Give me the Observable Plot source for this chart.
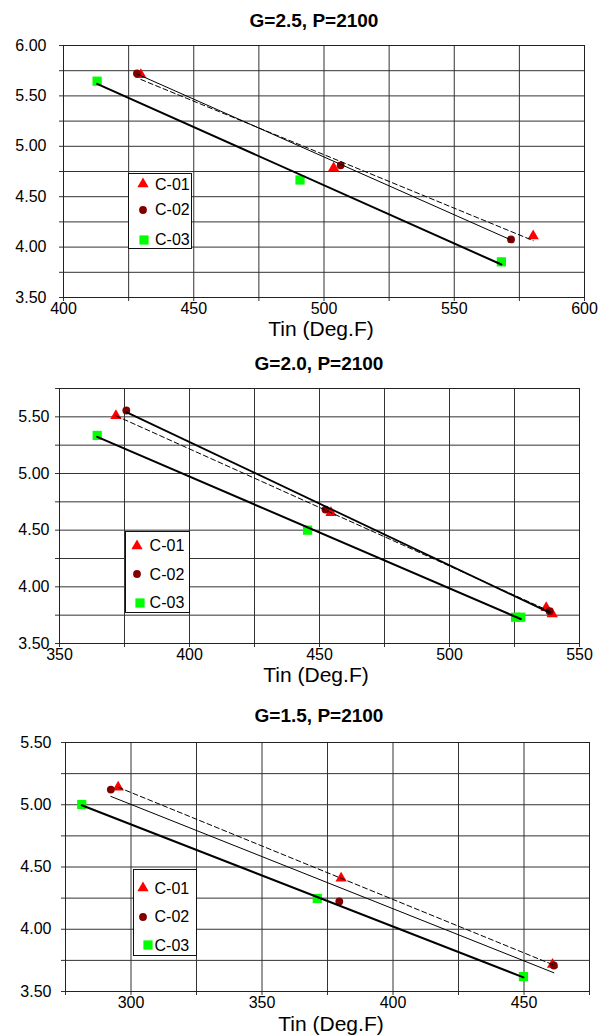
<!DOCTYPE html>
<html><head><meta charset="utf-8">
<script src="https://cdn.jsdelivr.net/npm/d3@7"></script>
<script src="https://cdn.jsdelivr.net/npm/@observablehq/plot@0.6"></script>
<style>
body{margin:0;background:#fff;font-family:"Liberation Sans",Arial,sans-serif;}
#root{position:relative;width:606px;height:1035px;overflow:hidden;background:#fff;}
.panel{position:absolute;left:0;}
.title{position:absolute;font-weight:bold;font-size:19px;line-height:19px;white-space:nowrap;transform:translateX(-50%);}
.xlabel{position:absolute;font-size:21px;line-height:17px;white-space:nowrap;transform:translateX(-50%);}
.legend{position:absolute;background:#fff;border:1px solid #111;box-sizing:border-box;}
.ltext{position:absolute;font-size:16px;line-height:16px;white-space:nowrap;}
.lsym{position:absolute;overflow:visible;}
</style>
</head><body><div id="root"></div>
<script>
// ---------- data ----------
const seriesNames = ["C-01", "C-02", "C-03"];
const titles = ["G=2.5, P=2100", "G=2.0, P=2100", "G=1.5, P=2100"];
const xAxisLabel = "Tin (Deg.F)";

// Panel 1: G=2.5
const p1_C01_x = [429.7, 503.7, 580.3];
const p1_C01_y = [5.71, 4.785, 4.11];
const p1_C02_x = [428.2, 506.4, 571.8];
const p1_C02_y = [5.722, 4.811, 4.076];
const p1_C03_x = [412.9, 490.8, 568.1];
const p1_C03_y = [5.646, 4.666, 3.854];
const p1_xTicks = [400, 425, 450, 475, 500, 525, 550, 575, 600];
const p1_xLabels = [400, 450, 500, 550, 600];
const p1_yTicks = [3.5, 3.75, 4, 4.25, 4.5, 4.75, 5, 5.25, 5.5, 5.75, 6];
const p1_yLabels = [3.5, 4, 4.5, 5, 5.5, 6];

// Panel 2: G=2.0
const p2_C01_x = [371.7, 454.4, 537.2, 539.5];
const p2_C01_y = [5.51, 4.653, 3.815, 3.76];
const p2_C02_x = [375.7, 452.3, 538.5];
const p2_C02_y = [5.556, 4.682, 3.785];
const p2_C03_x = [364.5, 445.4, 525.4, 527.4];
const p2_C03_y = [5.336, 4.5, 3.732, 3.732];
const p2_xTicks = [350, 375, 400, 425, 450, 475, 500, 525, 550];
const p2_xLabels = [350, 400, 450, 500, 550];
const p2_yTicks = [3.5, 3.75, 4, 4.25, 4.5, 4.75, 5, 5.25, 5.5, 5.75];
const p2_yLabels = [3.5, 4, 4.5, 5, 5.5];

// Panel 3: G=1.5
const p3_C01_x = [295.1, 380.2, 460.9];
const p3_C01_y = [5.14, 4.41, 3.716];
const p3_C02_x = [292.3, 379.5, 461.4];
const p3_C02_y = [5.122, 4.223, 3.709];
const p3_C03_x = [281.2, 371.1, 449.8];
const p3_C03_y = [5.002, 4.247, 3.62];
const p3_xTicks = [275, 300, 325, 350, 375, 400, 425, 450, 475];
const p3_xLabels = [300, 350, 400, 450];
const p3_yTicks = [3.5, 3.75, 4, 4.25, 4.5, 4.75, 5, 5.25, 5.5];
const p3_yLabels = [3.5, 4, 4.5, 5, 5.5];

// ---------- styles ----------
const FONT = '"Liberation Sans", Arial, sans-serif';
const symStyle = {
  "C-01": {symbol: "triangle", fill: "#ff0000", r: 4.2},
  "C-02": {symbol: "circle", fill: "#800000", r: 3.9},
  "C-03": {symbol: "square", fill: "#00ff00", r: 5.2}
};
const near = (arr, d) => arr.some(v => Math.abs(v - d) < 1e-9);
const rows = (xs, ys) => xs.map((x, i) => ({x, y: ys[i]}));

const panels = [
  {
    top: 0, h: 335, mt: 45, mb: 38, ml: 63, mr: 22,
    xDomain: [400, 600], yDomain: [3.5, 6],
    xTicks: p1_xTicks, xLabels: p1_xLabels, yTicks: p1_yTicks, yLabels: p1_yLabels, yPad: 13,
    series: [rows(p1_C01_x, p1_C01_y), rows(p1_C02_x, p1_C02_y), rows(p1_C03_x, p1_C03_y)],
    lineW: [1, 1, 2],
    titleX: 314, titleY: 11, xlabX: 321, xlabY: 320,
    legend: {left: 128, top: 173, w: 64, h: 76, sx: [143, 143, 143.5], sy: [184, 210, 239.5], tx: 155, ty: [185, 210, 240]}
  },
  {
    top: 340, h: 345, mt: 48, mb: 42, ml: 59, mr: 27,
    xDomain: [350, 550], yDomain: [3.5, 5.75],
    xTicks: p2_xTicks, xLabels: p2_xLabels, yTicks: p2_yTicks, yLabels: p2_yLabels, yPad: 6,
    series: [rows(p2_C01_x, p2_C01_y), rows(p2_C02_x, p2_C02_y), rows(p2_C03_x, p2_C03_y)],
    lineW: [1, 1.8, 2],
    titleX: 319, titleY: 354, xlabX: 316, xlabY: 666,
    legend: {left: 125, top: 531, w: 65, h: 82, sx: [137, 137, 140], sy: [545.7, 574.3, 602.7], tx: 149.6, ty: [546, 574.5, 603]}
  },
  {
    top: 690, h: 345, mt: 52, mb: 44, ml: 65, mr: 17,
    xDomain: [275, 475], yDomain: [3.5, 5.5],
    xTicks: p3_xTicks, xLabels: p3_xLabels, yTicks: p3_yTicks, yLabels: p3_yLabels, yPad: 10,
    series: [rows(p3_C01_x, p3_C01_y), rows(p3_C02_x, p3_C02_y), rows(p3_C03_x, p3_C03_y)],
    lineW: [1, 1, 2],
    titleX: 319, titleY: 706, xlabX: 331, xlabY: 1015,
    legend: {left: 133, top: 869, w: 64, h: 87, sx: [143, 143, 148], sy: [888, 916.7, 945], tx: 154.5, ty: [888.5, 917, 945.5]}
  }
];

const root = document.getElementById("root");

panels.forEach((p, pi) => {
  const marks = [
    Plot.gridX(p.xTicks, {stroke: "#333", strokeOpacity: 1, strokeWidth: 1}),
    Plot.gridY(p.yTicks, {stroke: "#333", strokeOpacity: 1, strokeWidth: 1}),
    Plot.axisX(p.xTicks, {tickSize: 4, tickPadding: 1, stroke: "#333", fontSize: 16,
      tickFormat: d => near(p.xLabels, d) ? String(d) : "", label: null}),
    Plot.axisY(p.yTicks, {tickSize: 4, tickPadding: p.yPad, stroke: "#333", fontSize: 16,
      tickFormat: d => near(p.yLabels, d) ? d.toFixed(2) : "", label: null}),
    Plot.frame({stroke: "#222"})
  ];
  p.series.forEach((s, si) => {
    const st = symStyle[seriesNames[si]];
    marks.push(Plot.dot(s, {x: "x", y: "y", symbol: st.symbol, fill: st.fill, stroke: "none", r: st.r}));
  });
  p.series.forEach((s, si) => {
    const opts = {x: "x", y: "y", stroke: "#000", strokeWidth: p.lineW[si], ci: 0};
    if (si === 0) opts.strokeDasharray = "5,3";
    marks.push(Plot.linearRegressionY(s, opts));
  });
  const svg = Plot.plot({
    width: 606, height: p.h,
    marginTop: p.mt, marginBottom: p.mb, marginLeft: p.ml, marginRight: p.mr,
    style: {fontFamily: FONT, fontSize: "16px", color: "#000", background: "transparent"},
    x: {domain: p.xDomain},
    y: {domain: p.yDomain},
    marks
  });
  const wrap = document.createElement("div");
  wrap.className = "panel";
  wrap.style.top = p.top + "px";
  wrap.appendChild(svg);
  root.appendChild(wrap);

  const t = document.createElement("div");
  t.className = "title";
  t.textContent = titles[pi];
  t.style.left = p.titleX + "px";
  t.style.top = p.titleY + "px";
  root.appendChild(t);

  const xl = document.createElement("div");
  xl.className = "xlabel";
  xl.textContent = xAxisLabel;
  xl.style.left = p.xlabX + "px";
  xl.style.top = p.xlabY + "px";
  root.appendChild(xl);

  const L = p.legend;
  const box = document.createElement("div");
  box.className = "legend";
  Object.assign(box.style, {left: L.left + "px", top: L.top + "px", width: L.w + "px", height: L.h + "px"});
  root.appendChild(box);
  seriesNames.forEach((name, si) => {
    const st = symStyle[name];
    const ns = "http://www.w3.org/2000/svg";
    const sv = document.createElementNS(ns, "svg");
    sv.setAttribute("class", "lsym");
    sv.setAttribute("width", 20); sv.setAttribute("height", 20);
    sv.style.left = (L.sx[si] - 10) + "px";
    sv.style.top = (L.sy[si] - 10) + "px";
    const path = document.createElementNS(ns, "path");
    const sym = {triangle: d3.symbolTriangle, circle: d3.symbolCircle, square: d3.symbolSquare}[st.symbol];
    path.setAttribute("d", d3.symbol(sym, Math.PI * st.r * st.r)());
    path.setAttribute("transform", "translate(10,10)");
    path.setAttribute("fill", st.fill);
    sv.appendChild(path);
    root.appendChild(sv);
    const tx = document.createElement("div");
    tx.className = "ltext";
    tx.textContent = name;
    tx.style.left = L.tx + "px";
    tx.style.top = (L.ty[si] - 8) + "px";
    root.appendChild(tx);
  });
});
</script>
</body></html>
